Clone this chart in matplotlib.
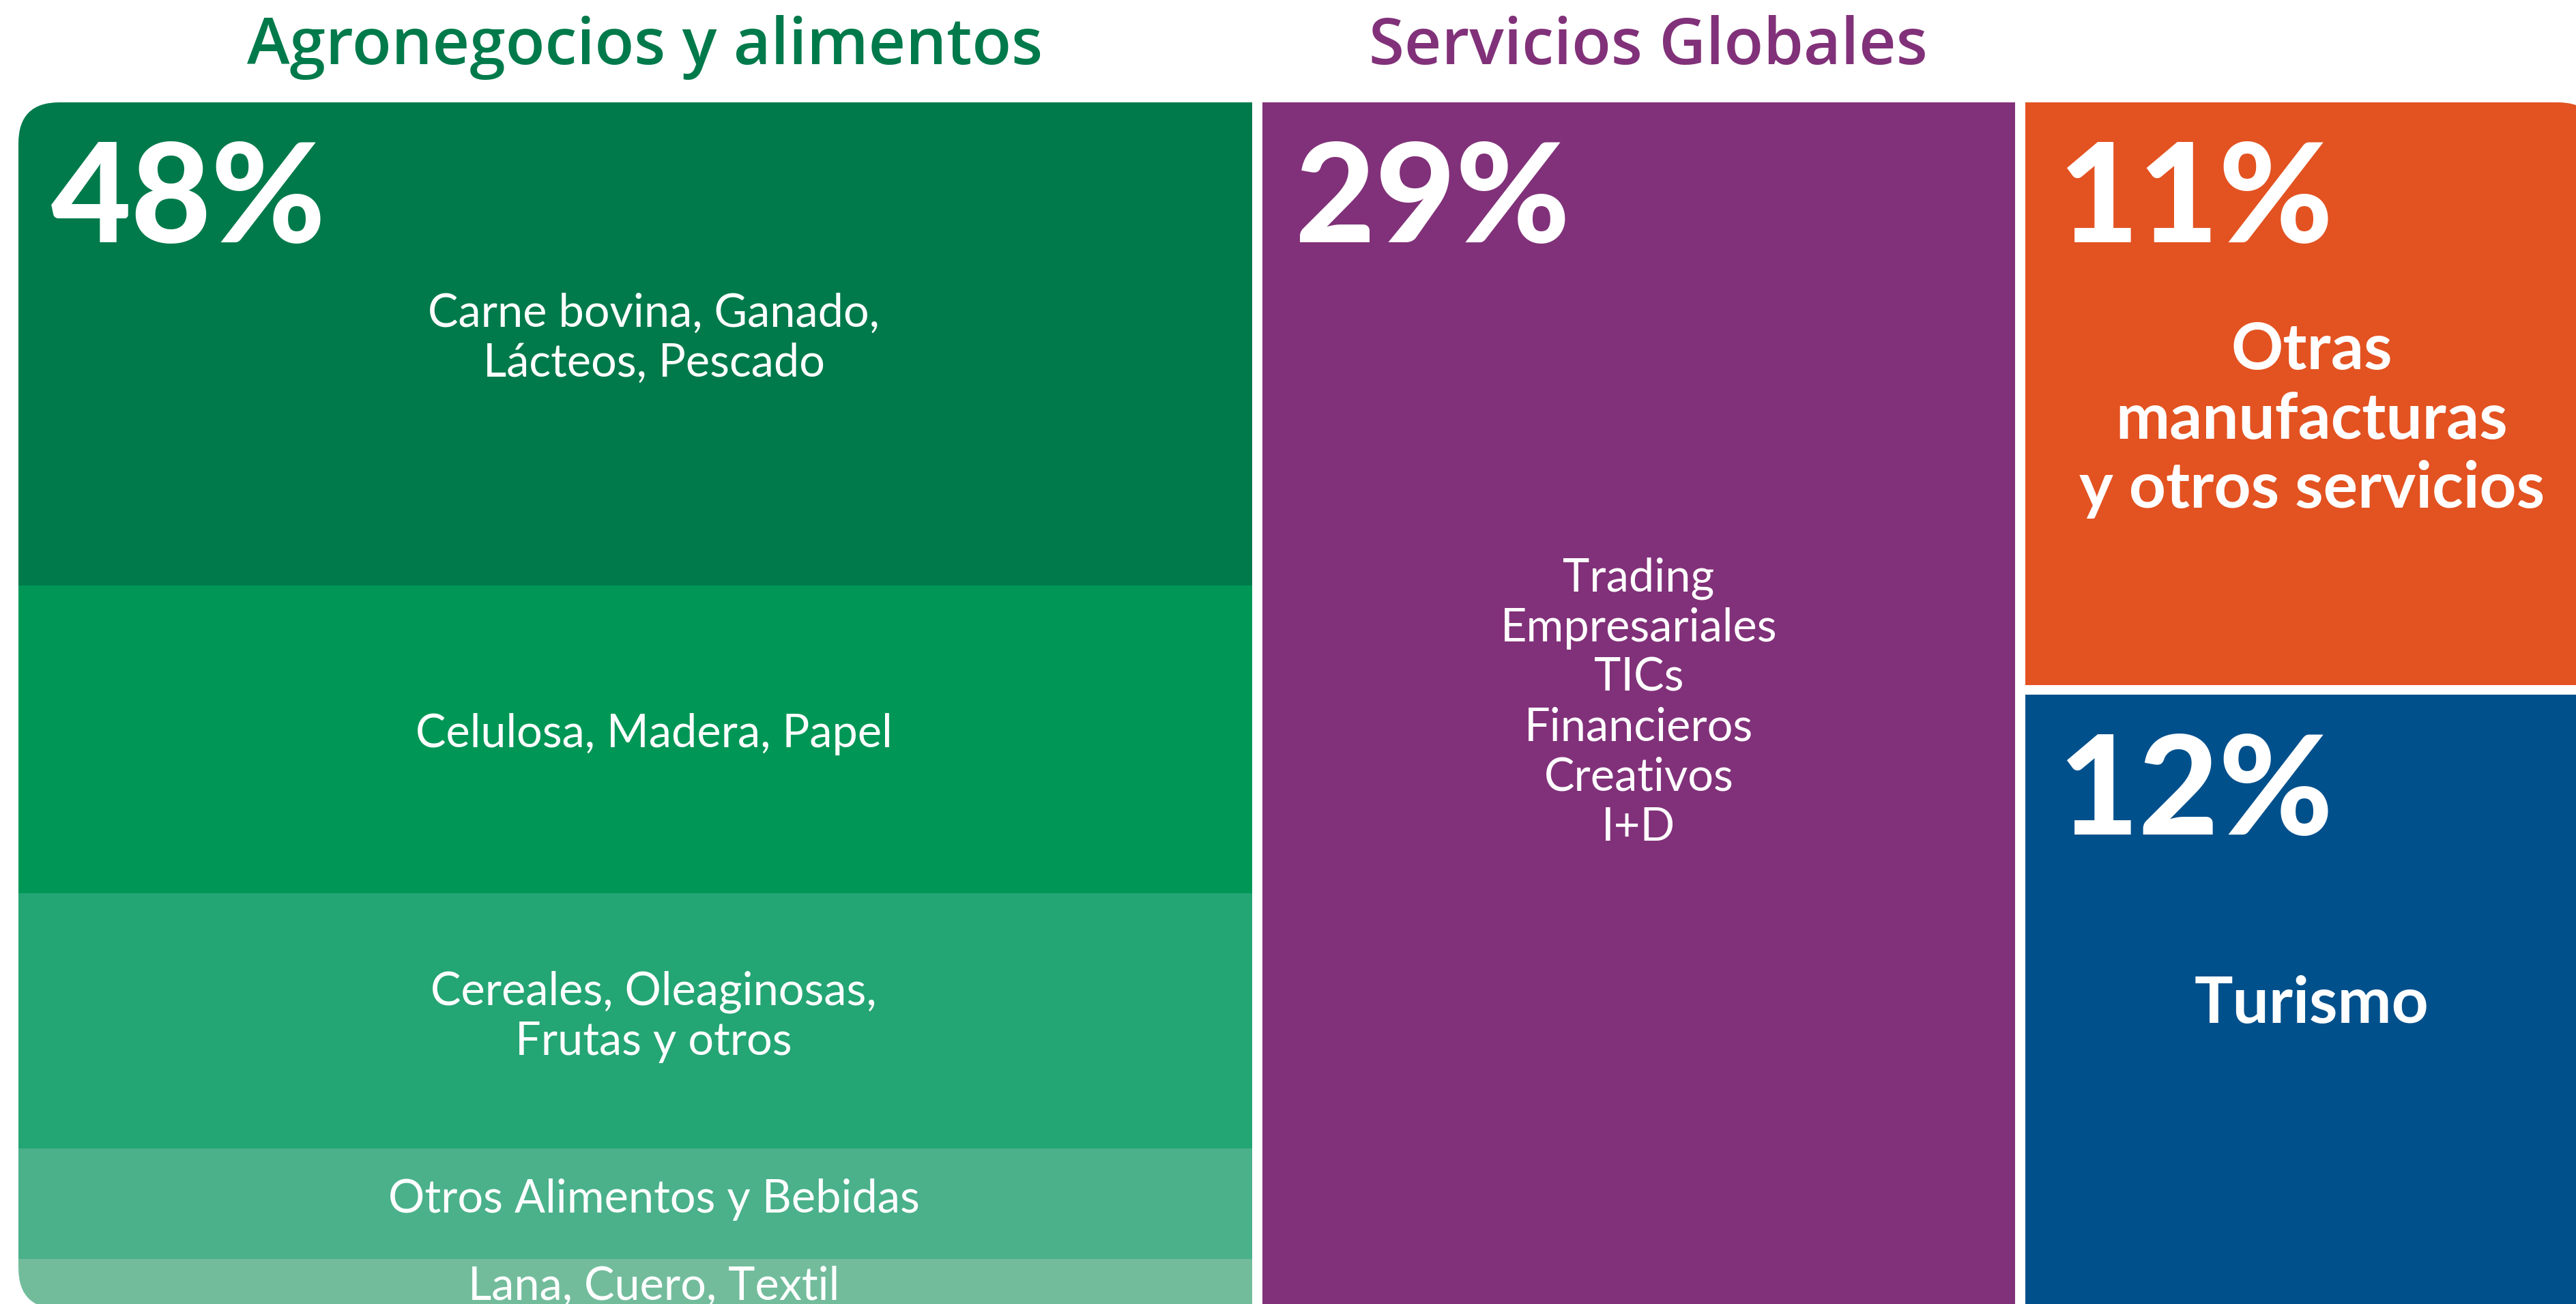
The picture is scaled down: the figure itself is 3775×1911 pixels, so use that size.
import matplotlib
matplotlib.use("Agg")
import matplotlib.pyplot as plt
from matplotlib.patches import Rectangle, FancyBboxPatch

# shares (column widths / band heights)
agro_items = ["Carne bovina, Ganado,\nLácteos, Pescado", "Celulosa, Madera, Papel",
              "Cereales, Oleaginosas,\nFrutas y otros", "Otros Alimentos y Bebidas",
              "Lana, Cuero, Textil"]
agro_share = [19.3, 12.3, 10.2, 4.4, 2.0]
agro_colors = ["#007A4B", "#009756", "#24A574", "#4AB18A", "#72BC9C"]

serv_items = ["Trading\nEmpresariales\nTICs\nFinancieros\nCreativos\nI+D"]
serv_share = [29.4]
serv_colors = ["#813179"]

right_items = ["Otras\nmanufacturas\ny otros servicios", "Turismo"]
right_share = [10.9, 11.5]
right_colors = ["#E35221", "#00508C"]

group_titles = ["Agronegocios y alimentos", "Servicios Globales"]
title_colors = ["#007A4B", "#813179"]
pct_labels = ["48%", "29%", "11%", "12%"]

W, H = 3775, 1911
x0, x1, y0, y1 = 27, 3808, 150, 1918
gap = 15

fig = plt.figure(figsize=(W / 100, H / 100), dpi=100)
ax = fig.add_axes([0, 0, 1, 1])
ax.set_xlim(0, W)
ax.set_ylim(H, 0)
ax.axis("off")

clip = FancyBboxPatch((x0, y0), x1 - x0, y1 - y0,
                      boxstyle="round,pad=0,rounding_size=60",
                      transform=ax.transData, facecolor="none", edgecolor="none")

col_share = [sum(agro_share), sum(serv_share), sum(right_share)]
avail_w = (x1 - x0) - gap * (len(col_share) - 1)
col_w = [s / sum(col_share) * avail_w for s in col_share]
col_x = [x0, x0 + col_w[0] + gap, x0 + col_w[0] + col_w[1] + 2 * gap]

label_font = "Lato"
pct_font = "Lato"


def draw_column(cx, cw, items, shares, colors, vgap, bold, fsize, xoff, yoffs):
    avail_h = (y1 - y0) - vgap * (len(shares) - 1)
    y = y0
    tops = []
    for item, s, c, yo in zip(items, shares, colors, yoffs):
        h = s / sum(shares) * avail_h
        r = Rectangle((cx, y), cw, h, facecolor=c, edgecolor="none")
        r.set_clip_path(clip)
        ax.add_patch(r)
        t = ax.text(cx + cw / 2 + xoff, y + h / 2 + yo, item, color="white",
                    ha="center", va="center", fontsize=fsize, family=label_font,
                    fontweight="bold" if bold else "normal", linespacing=1.22)
        t.set_clip_path(clip)
        tops.append(y)
        y += h + vgap
    return tops


agro_tops = draw_column(col_x[0], col_w[0], agro_items, agro_share, agro_colors,
                        0, False, 48, 27, [-8, -8, -6, -6, 4])
serv_tops = draw_column(col_x[1], col_w[1], serv_items, serv_share, serv_colors,
                        0, False, 48, 0, [-4])
right_tops = draw_column(col_x[2], col_w[2], right_items, right_share, right_colors,
                         14, True, 68, 0, [39, 4])

# big percentages
pct_pos = [(col_x[0], agro_tops[0]), (col_x[1], serv_tops[0]),
           (col_x[2], right_tops[0]), (col_x[2], right_tops[1])]
for lab, (px, py) in zip(pct_labels, pct_pos):
    ax.text(px + 48, py + 205, lab, color="white", ha="left", va="baseline",
            fontsize=146, family=pct_font, fontweight="black")

# group titles
for i, (tt, tc) in enumerate(zip(group_titles, title_colors)):
    ax.text(col_x[i] + col_w[i] / 2 + 14, 94, tt, color=tc, ha="center",
            va="baseline", fontsize=68, family="Open Sans", fontweight="semibold")

fig.savefig("out.png", dpi=100, facecolor="white")
